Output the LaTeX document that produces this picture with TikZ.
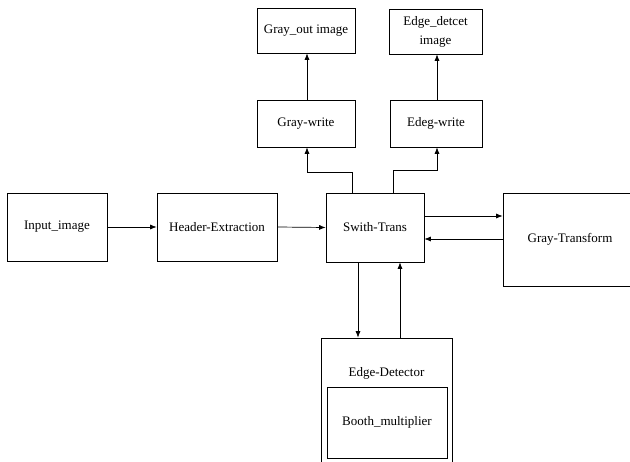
\documentclass[tikz,border=0pt]{standalone}
\usepackage{fontspec}
\setmainfont{Liberation Serif}
\usetikzlibrary{arrows.meta}
\begin{document}
\begin{tikzpicture}[x=1pt,y=-1pt,
  box/.style={draw,line width=0.7pt,inner sep=0pt,align=center,font=\fontsize{13}{14}\selectfont},
  lbl/.style={inner sep=0pt,font=\fontsize{13}{14}\selectfont},
  arr/.style={line width=0.7pt,-{Latex[length=6.5pt,width=5pt]}},
  ln/.style={line width=0.7pt}]
\useasboundingbox (0,0) rectangle (630,462);
\clip (0,0) rectangle (630,462);
\fill[white] (0,0) rectangle (630,462);
% boxes
\node[box,minimum width=100,minimum height=68] (In) at (57,227) {Input\_image};
\node[box,minimum width=120,minimum height=68] (HE) at (217,227) {Header-Extraction};
\node[box,minimum width=98,minimum height=69] (ST) at (375,227.5) {Swith-Trans};
\node[box,minimum width=134,minimum height=93] (GT) at (570,239.5) {Gray-Transform};
\node[box,minimum width=98,minimum height=45] (GO) at (306,30.5) {Gray\_out image};
\node[box,minimum width=93,minimum height=45] (EO) at (435.5,31.5) {Edge\_detcet\\[5pt]image};
\node[box,minimum width=98,minimum height=47] (GW) at (306,123.5) {Gray-write};
\node[box,minimum width=92,minimum height=47] (EW) at (436,123.5) {Edeg-write};
\node[box,minimum width=131,minimum height=150] (ED) at (386.5,413) {};
\node[lbl] (EDl) at (386.5,373) {Edge-Detector};
\node[box,minimum width=120,minimum height=71] (BM) at (387,422.5) {Booth\_multiplier};
% helper x positions
\coordinate (xgw) at (307,0);
\coordinate (xew) at (437,0);
\coordinate (xs1) at (352,0);
\coordinate (xs2) at (393,0);
\coordinate (xdn) at (358,0);
\coordinate (xup) at (400,0);
\coordinate (ya) at (0,216);
\coordinate (yb) at (0,239);
\coordinate (t1) at (352,172);
\coordinate (t2) at (393,170);
% connectors
\draw[arr] (In.east) -- (HE.west);
\draw[arr] (HE.east) -- (ST.west);
\draw[arr] (ST.east |- ya) -- (GT.west |- ya);
\draw[arr] (GT.west |- yb) -- (ST.east |- yb);
\draw[arr] (ST.north -| xs1) -- (t1) -- (t1 -| xgw) -- (GW.south -| xgw);
\draw[arr] (ST.north -| xs2) -- (t2) -- (t2 -| xew) -- (EW.south -| xew);
\draw[arr] (GW.north -| xgw) -- (GO.south -| xgw);
\draw[arr] (EW.north -| xew) -- (EO.south -| xew);
\draw[arr] (ST.south -| xdn) -- (ED.north -| xdn);
\draw[arr] (ED.north -| xup) -- (ST.south -| xup);
\end{tikzpicture}
\end{document}
